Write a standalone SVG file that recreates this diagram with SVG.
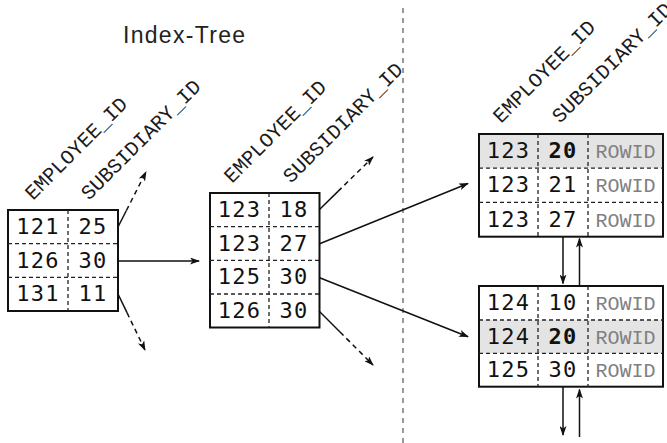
<svg xmlns="http://www.w3.org/2000/svg" width="667" height="443" viewBox="0 0 667 443">
<style>
.box{fill:none;stroke:#111;stroke-width:2}
.sep{stroke:#222;stroke-width:1.3;stroke-dasharray:4 3;fill:none}
.hl{fill:#e4e4e4;stroke:none}
.num{font-family:"DejaVu Sans Mono",monospace;font-size:22px;letter-spacing:1.3px;fill:#111;text-anchor:middle}
.bold{font-weight:bold}
.rid{font-family:"Liberation Mono",monospace;font-size:20px;fill:#808080;text-anchor:middle}
.lbl{font-family:"Liberation Mono",monospace;font-size:20.5px;fill:#1a1a1a}
.title{font-family:"Liberation Sans",Arial,sans-serif;font-size:23px;letter-spacing:1.3px;fill:#222}
.ln{stroke:#111;stroke-width:1.5;fill:none}
.dash{stroke:#111;stroke-width:1.5;fill:none;stroke-dasharray:5 4}
.divider{stroke:#333;stroke-width:1;stroke-dasharray:5 5;fill:none}
</style>
<defs>
<marker id="ah" viewBox="0 0 10 7" refX="9" refY="3.5" markerWidth="10" markerHeight="7" markerUnits="userSpaceOnUse" orient="auto">
<path d="M0,0 L10,3.5 L0,7 L2.5,3.5 z" fill="#111"/>
</marker>
</defs>

<text class="title" x="123" y="43">Index-Tree</text>

<line class="divider" x1="403" y1="8" x2="403" y2="443"/>

<g id="root">
<text class="lbl" transform="translate(33,201) rotate(-45)">EMPLOYEE_ID</text>
<text class="lbl" transform="translate(89,201) rotate(-45)">SUBSIDIARY_ID</text>
<rect class="box" x="8" y="210" width="110" height="101"/>
<path class="sep" d="M8,243.7H118M8,277.3H118M68,210V311"/>
<text class="num" x="38" y="234">121</text><text class="num" x="93" y="234">25</text>
<text class="num" x="38" y="267.7">126</text><text class="num" x="93" y="267.7">30</text>
<text class="num" x="38" y="301.3">131</text><text class="num" x="93" y="301.3">11</text>
</g>

<g id="branch">
<text class="lbl" transform="translate(232,184) rotate(-45)">EMPLOYEE_ID</text>
<text class="lbl" transform="translate(291,184) rotate(-45)">SUBSIDIARY_ID</text>
<rect class="box" x="210" y="193" width="109.5" height="134.5"/>
<path class="sep" d="M210,226.6H319.5M210,260.3H319.5M210,294H319.5M269,193V327.5"/>
<text class="num" x="239.5" y="217">123</text><text class="num" x="294" y="217">18</text>
<text class="num" x="239.5" y="250.6">123</text><text class="num" x="294" y="250.6">27</text>
<text class="num" x="239.5" y="284.3">125</text><text class="num" x="294" y="284.3">30</text>
<text class="num" x="239.5" y="318">126</text><text class="num" x="294" y="318">30</text>
</g>

<g id="leaf1">
<text class="lbl" transform="translate(501,124) rotate(-45)">EMPLOYEE_ID</text>
<text class="lbl" transform="translate(560,124) rotate(-45)">SUBSIDIARY_ID</text>
<rect class="hl" x="479" y="134" width="184" height="34.2"/>
<rect class="box" x="479" y="134" width="184" height="102.7"/>
<path class="sep" d="M479,168.2H663M479,202.4H663M538,134V236.7M588,134V236.7"/>
<text class="num" x="508.5" y="158.3">123</text><text class="num bold" x="563" y="158.3">20</text><text class="rid" x="625.5" y="158.3">ROWID</text>
<text class="num" x="508.5" y="192.4">123</text><text class="num" x="563" y="192.4">21</text><text class="rid" x="625.5" y="192.4">ROWID</text>
<text class="num" x="508.5" y="226.6">123</text><text class="num" x="563" y="226.6">27</text><text class="rid" x="625.5" y="226.6">ROWID</text>
</g>

<g id="leaf2">
<rect class="hl" x="479" y="320" width="184" height="33.3"/>
<rect class="box" x="479" y="286" width="184" height="100.7"/>
<path class="sep" d="M479,320H663M479,353.3H663M538,286V386.7M588,286V386.7"/>
<text class="num" x="508.5" y="310">124</text><text class="num" x="563" y="310">10</text><text class="rid" x="625.5" y="310">ROWID</text>
<text class="num" x="508.5" y="344">124</text><text class="num bold" x="563" y="344">20</text><text class="rid" x="625.5" y="344">ROWID</text>
<text class="num" x="508.5" y="377">125</text><text class="num" x="563" y="377">30</text><text class="rid" x="625.5" y="377">ROWID</text>
</g>

<g id="connectors">
<line class="ln" x1="118" y1="227" x2="126.4" y2="210.5"/>
<line class="dash" x1="126.4" y1="210.5" x2="146" y2="172" marker-end="url(#ah)"/>
<line class="ln" x1="118" y1="261" x2="199" y2="261" marker-end="url(#ah)"/>
<line class="ln" x1="118" y1="294" x2="127" y2="312.7"/>
<line class="dash" x1="127" y1="312.7" x2="145" y2="350" marker-end="url(#ah)"/>
<line class="ln" x1="319" y1="210" x2="338" y2="191.4"/>
<line class="dash" x1="338" y1="191.4" x2="373" y2="157" marker-end="url(#ah)"/>
<line class="ln" x1="319" y1="244" x2="468" y2="183.5" marker-end="url(#ah)"/>
<line class="ln" x1="319" y1="277.5" x2="468" y2="336.7" marker-end="url(#ah)"/>
<line class="ln" x1="319" y1="311" x2="340" y2="332"/>
<line class="dash" x1="340" y1="332" x2="373" y2="365" marker-end="url(#ah)"/>
<line class="ln" x1="563" y1="237" x2="563" y2="283.5" marker-end="url(#ah)"/>
<line class="ln" x1="579.5" y1="286" x2="579.5" y2="238.5" marker-end="url(#ah)"/>
<line class="ln" x1="563" y1="387" x2="563" y2="435" marker-end="url(#ah)"/>
<line class="ln" x1="579.5" y1="437" x2="579.5" y2="389.5" marker-end="url(#ah)"/>
</g>
</svg>
